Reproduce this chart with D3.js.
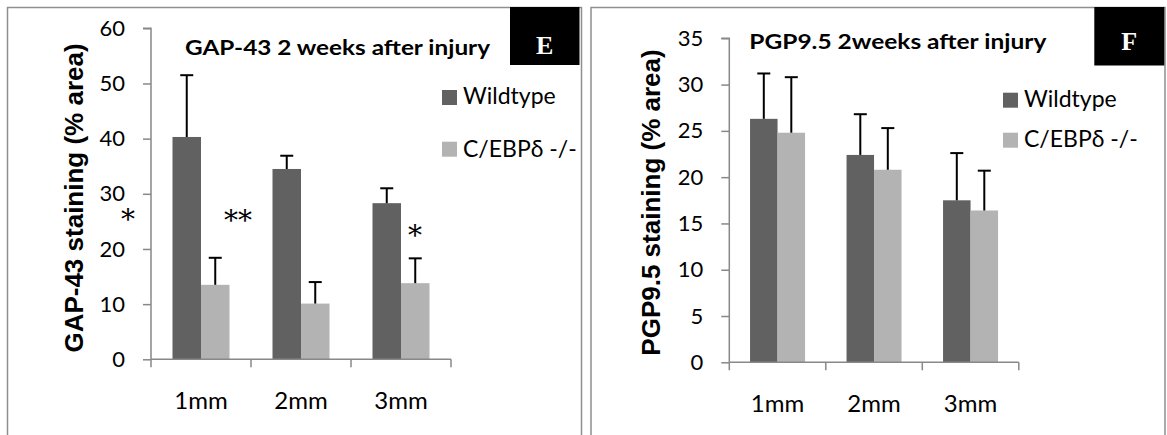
<!DOCTYPE html>
<html>
<head>
<meta charset="utf-8">
<script src="https://cdn.jsdelivr.net/npm/d3@7"></script>
<style>
  body { margin: 0; background: #fff; }
  text { font-family: Lato, "Open Sans", sans-serif; fill: #000; }
</style>
</head>
<body>
<div id="chart"></div>
<script>
var categories = ["1mm", "2mm", "3mm"];
var seriesNames = ["Wildtype", "C/EBPδ -/-"];
var colors = ["#616161", "#b3b3b3"];

// GAP-43 panel (E)
var gapWild = [40.3, 34.5, 28.3];
var gapWildErr = [11.2, 2.4, 2.7];
var gapKO = [13.5, 10.1, 13.8];
var gapKOErr = [4.9, 3.9, 4.5];
var gapTicks = [0, 10, 20, 30, 40, 50, 60];

// PGP9.5 panel (F)
var pgpWild = [26.3, 22.4, 17.5];
var pgpWildErr = [4.9, 4.4, 5.1];
var pgpKO = [24.8, 20.8, 16.4];
var pgpKOErr = [6.0, 4.5, 4.3];
var pgpTicks = [0, 5, 10, 15, 20, 25, 30, 35];

var svg = d3.select("#chart").append("svg")
    .attr("width", 1167)
    .attr("height", 435);

var panels = [
  {
    frameX: 7.5, left: 151, top: 28.3, bottom: 359.3, width: 300,
    title: "GAP-43 2 weeks after injury", titleX: 185, titleY: 55, titleLen: 305,
    ylabel: "GAP-43 staining (% area)", ylabelX: 83, ylabelY: 198,
    letter: "E", boxX: 510, boxW: 69.5, boxH: 58, letterY: 53.5,
    legX: 442, legY: [90, 141.7], legTextY: [104, 156.5],
    wild: gapWild, wildErr: gapWildErr, ko: gapKO, koErr: gapKOErr, ticks: gapTicks,
    stars: [{t: "*", cat: 0, dx: -73, v: 26.3}, {t: "**", cat: 0, dx: 37, v: 26.2}, {t: "*", cat: 2, dx: 14, v: 23.4}]
  },
  {
    frameX: 591, left: 729.3, top: 38.3, bottom: 362.3, width: 289.5,
    title: "PGP9.5 2weeks after injury", titleX: 749.3, titleY: 49.3, titleLen: 297,
    ylabel: "PGP9.5 staining (% area)", ylabelX: 660, ylabelY: 202.5,
    letter: "F", boxX: 1094.3, boxW: 70, boxH: 58.5, letterY: 50,
    legX: 1003, legY: [92.7, 132.7], legTextY: [106.5, 146.5],
    wild: pgpWild, wildErr: pgpWildErr, ko: pgpKO, koErr: pgpKOErr, ticks: pgpTicks,
    stars: []
  }
];

panels.forEach(function(p) {
  // frame
  svg.append("rect")
      .attr("x", p.frameX).attr("y", 7.5)
      .attr("width", 574).attr("height", 500)
      .attr("fill", "none")
      .attr("stroke", "#8f8f8f")
      .attr("stroke-width", 1.5);

  var y = d3.scaleLinear()
      .domain([0, d3.max(p.ticks)])
      .range([p.bottom, p.top]);

  var x0 = d3.scaleBand()
      .domain(categories)
      .range([p.left, p.left + p.width])
      .paddingInner(0.43)
      .paddingOuter(0.215);

  var x1 = d3.scaleBand()
      .domain(seriesNames)
      .range([0, x0.bandwidth()]);

  var rows = categories.map(function(c, i) {
    return [
      {cat: c, s: seriesNames[0], v: p.wild[i], e: p.wildErr[i]},
      {cat: c, s: seriesNames[1], v: p.ko[i], e: p.koErr[i]}
    ];
  });
  var flat = d3.merge(rows);

  // y axis
  var yAxis = svg.append("g")
      .attr("transform", "translate(" + p.left + ",0)")
      .call(d3.axisLeft(y).tickValues(p.ticks).tickSize(8).tickPadding(18));
  yAxis.selectAll("path, line").attr("stroke", "#888").attr("stroke-width", 1.5);
  yAxis.select(".domain").attr("d", "M-8," + y(d3.max(p.ticks)) + "H0V" + p.bottom);
  yAxis.selectAll("text")
      .style("font-family", "Lato, sans-serif")
      .style("font-size", "22px")
      .attr("fill", "#000");

  // bars
  svg.selectAll(null)
      .data(flat)
    .enter().append("rect")
      .attr("x", function(d) { return x0(d.cat) + x1(d.s); })
      .attr("y", function(d) { return y(d.v); })
      .attr("width", x1.bandwidth())
      .attr("height", function(d) { return p.bottom - y(d.v); })
      .attr("fill", function(d) { return colors[seriesNames.indexOf(d.s)]; });

  // error bars (upper only)
  var eb = svg.selectAll(null)
      .data(flat)
    .enter().append("g")
      .attr("stroke", "#000")
      .attr("stroke-width", 2);
  eb.append("line")
      .attr("x1", function(d) { return x0(d.cat) + x1(d.s) + x1.bandwidth() / 2; })
      .attr("x2", function(d) { return x0(d.cat) + x1(d.s) + x1.bandwidth() / 2; })
      .attr("y1", function(d) { return y(d.v); })
      .attr("y2", function(d) { return y(d.v + d.e); });
  eb.append("line")
      .attr("x1", function(d) { return x0(d.cat) + x1(d.s) + x1.bandwidth() / 2 - 6.5; })
      .attr("x2", function(d) { return x0(d.cat) + x1(d.s) + x1.bandwidth() / 2 + 6.5; })
      .attr("y1", function(d) { return y(d.v + d.e); })
      .attr("y2", function(d) { return y(d.v + d.e); });

  // x axis, ticks at category boundaries
  var bounds = d3.range(categories.length + 1).map(function(i) { return p.left + i * x0.step(); });
  var xAxis = svg.append("g").attr("stroke", "#888").attr("stroke-width", 1.5);
  xAxis.append("line")
      .attr("x1", p.left).attr("x2", p.left + p.width)
      .attr("y1", p.bottom).attr("y2", p.bottom);
  xAxis.selectAll(null)
      .data(bounds)
    .enter().append("line")
      .attr("x1", function(d) { return d; })
      .attr("x2", function(d) { return d; })
      .attr("y1", p.bottom).attr("y2", p.bottom + 8);

  svg.selectAll(null)
      .data(categories)
    .enter().append("text")
      .attr("x", function(d) { return x0(d) + x0.bandwidth() / 2; })
      .attr("y", p.bottom + 50)
      .attr("text-anchor", "middle")
      .style("font-size", "24px")
      .text(function(d) { return d; });

  // title
  svg.append("text")
      .attr("x", p.titleX).attr("y", p.titleY)
      .attr("textLength", p.titleLen)
      .attr("lengthAdjust", "spacingAndGlyphs")
      .style("font-size", "20px")
      .style("font-weight", "bold")
      .text(p.title);

  // y label
  svg.append("text")
      .attr("transform", "translate(" + p.ylabelX + "," + p.ylabelY + ") rotate(-90)")
      .attr("text-anchor", "middle")
      .style("font-family", "'Liberation Sans', Arial, sans-serif")
      .style("font-size", "26px")
      .style("font-weight", "bold")
      .text(p.ylabel);

  // legend
  seriesNames.forEach(function(s, i) {
    svg.append("rect")
        .attr("x", p.legX).attr("y", p.legY[i])
        .attr("width", 15).attr("height", 15)
        .attr("fill", colors[i]);
    svg.append("text")
        .attr("x", p.legX + 21).attr("y", p.legTextY[i])
        .style("font-size", "23px")
        .text(s);
  });

  // panel letter box
  svg.append("rect")
      .attr("x", p.boxX).attr("y", 7)
      .attr("width", p.boxW).attr("height", p.boxH)
      .attr("fill", "#000");
  svg.append("text")
      .attr("x", p.boxX + p.boxW / 2).attr("y", p.letterY)
      .attr("text-anchor", "middle")
      .style("font-family", "'Liberation Serif', 'Times New Roman', serif")
      .style("font-size", "26px")
      .style("font-weight", "bold")
      .style("fill", "#fff")
      .text(p.letter);

  // significance marks
  svg.selectAll(null)
      .data(p.stars)
    .enter().append("text")
      .attr("x", function(d) { return x0(categories[d.cat]) + x0.bandwidth() / 2 + d.dx; })
      .attr("y", function(d) { return y(d.v) + 15; })
      .attr("text-anchor", "middle")
      .style("font-family", "'DejaVu Serif', 'Liberation Serif', serif")
      .style("font-size", "28px")
      .style("font-weight", "300")
      .text(function(d) { return d.t; });
});
</script>
</body>
</html>
